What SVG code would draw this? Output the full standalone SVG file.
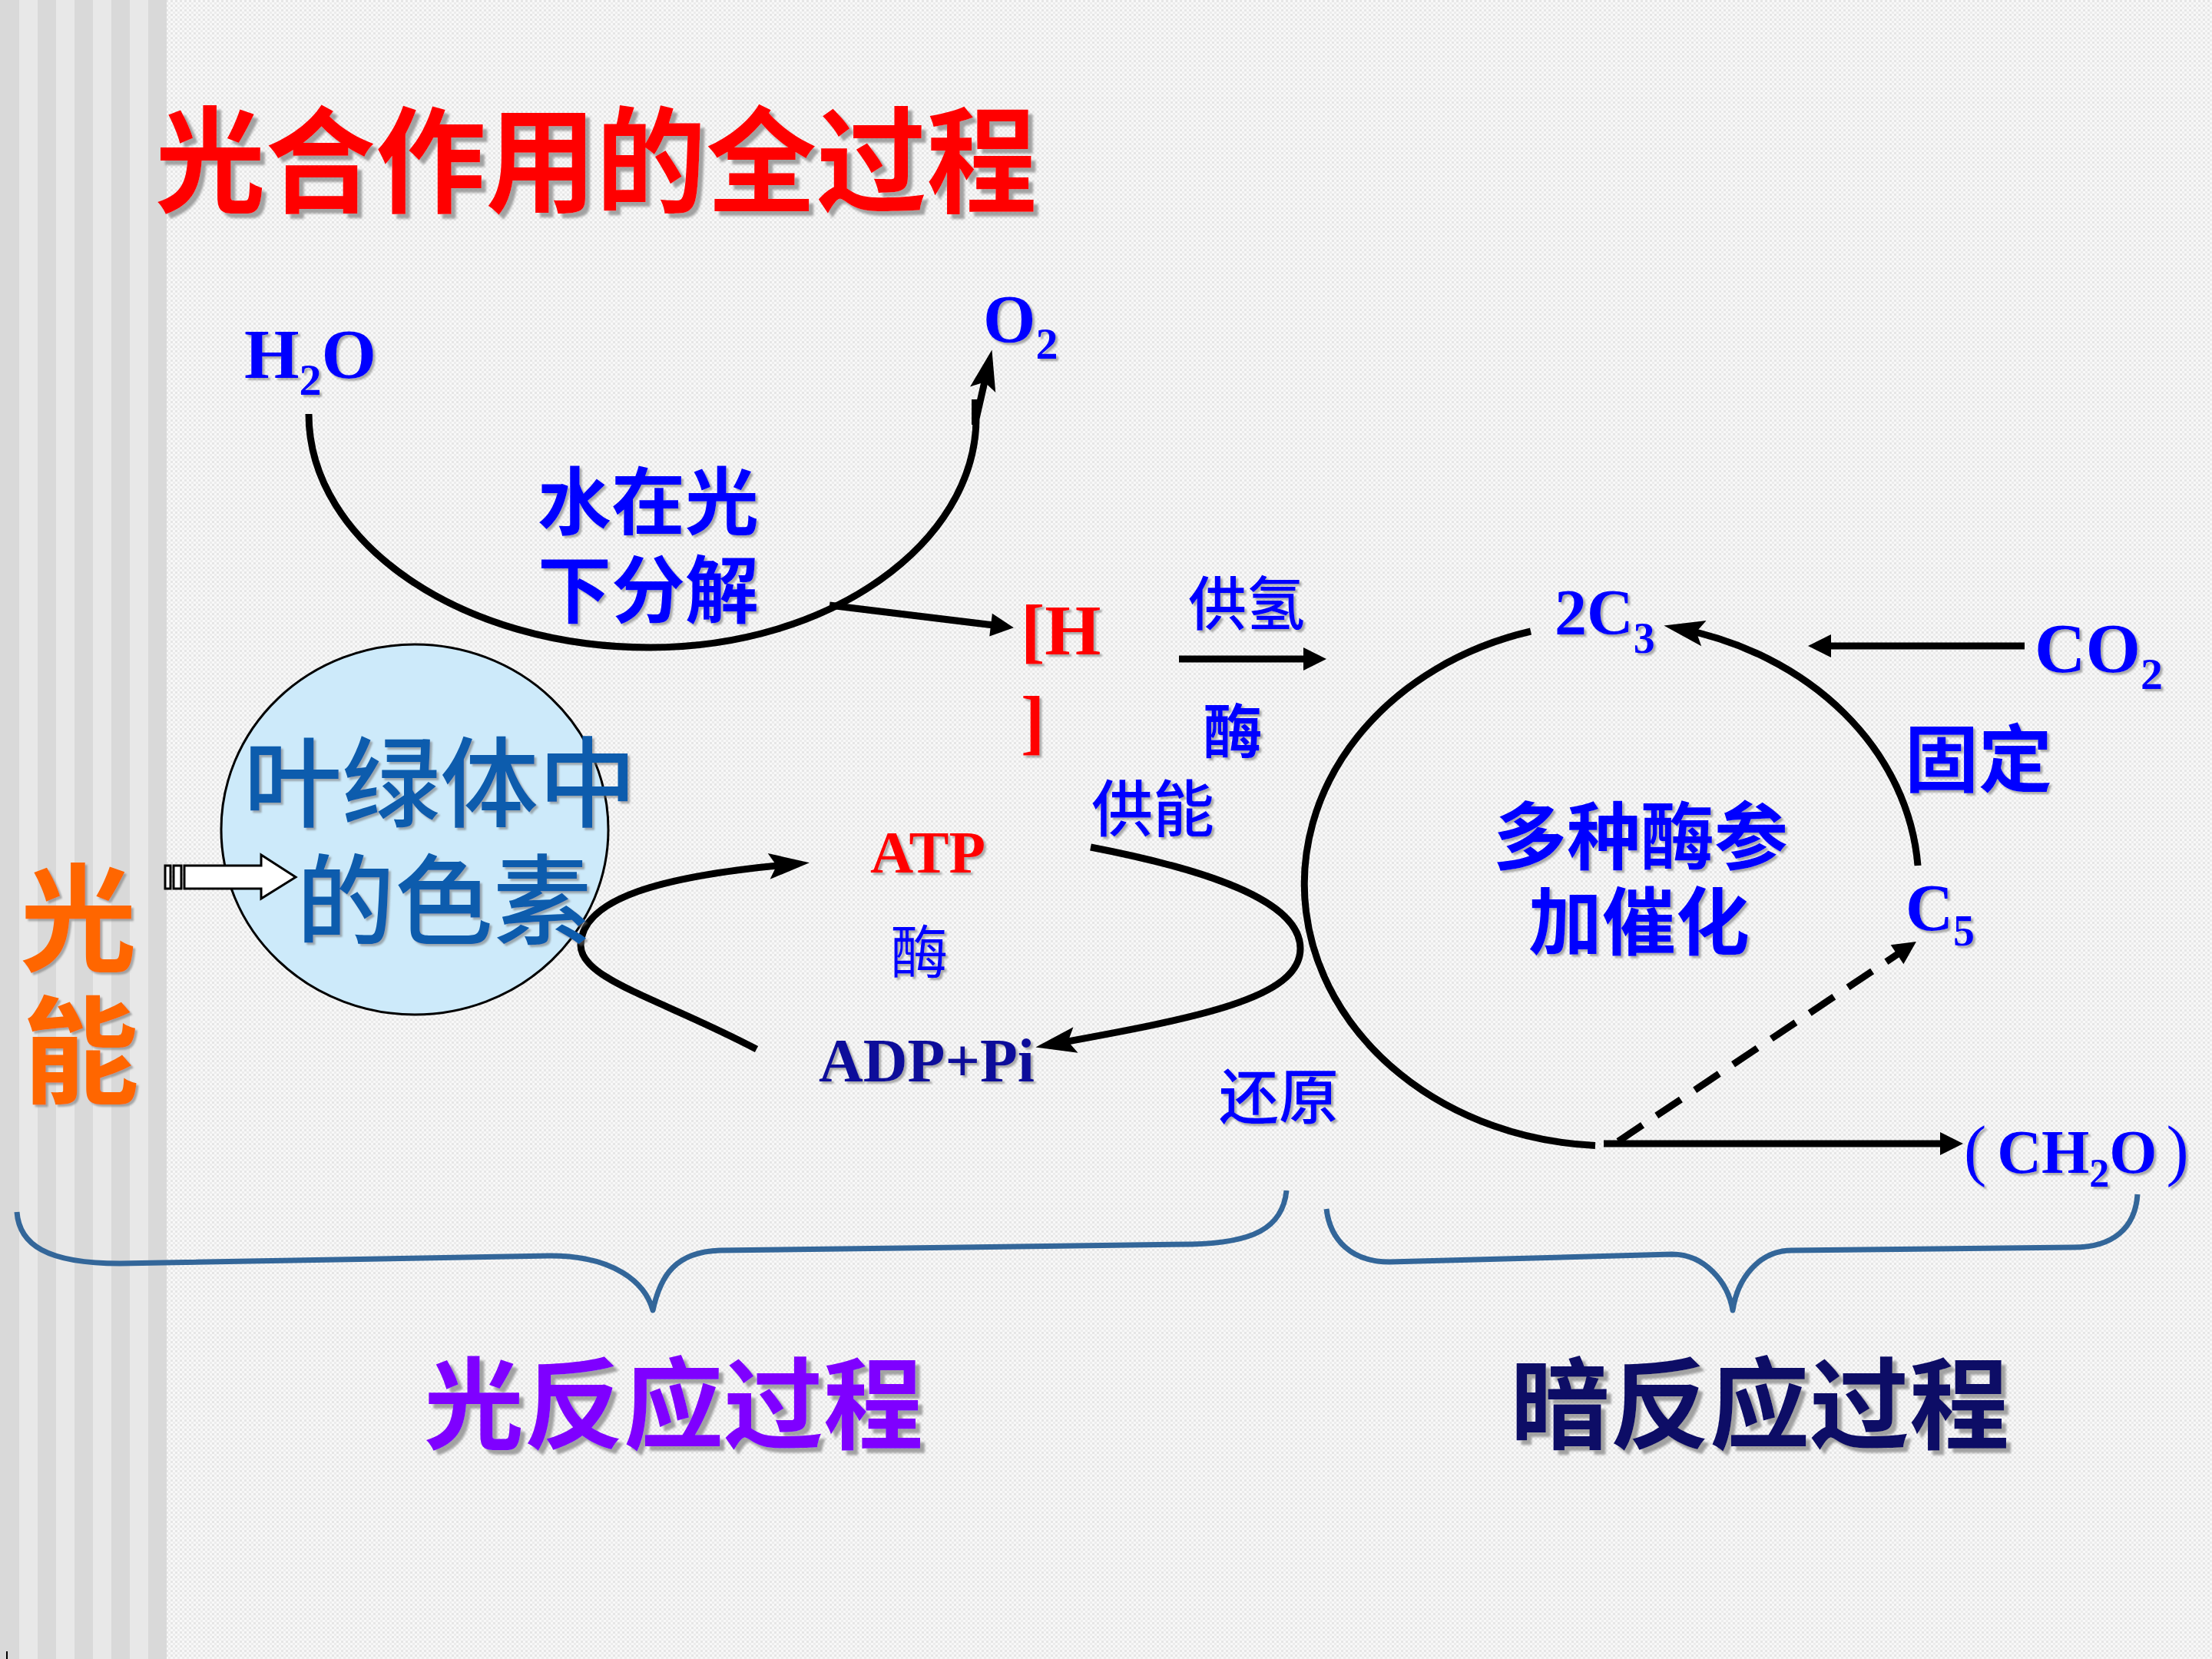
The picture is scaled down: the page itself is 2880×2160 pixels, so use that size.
<svg xmlns="http://www.w3.org/2000/svg" width="2880" height="2160" viewBox="0 0 2880 2160">
<defs>
  <pattern id="bgp" x="0" y="0" width="6" height="6" patternUnits="userSpaceOnUse">
    <rect width="6" height="6" fill="#f8f8f8"/>
    <rect width="3" height="3" fill="#e6e6e6"/>
    <rect x="3" y="3" width="3" height="3" fill="#ececec"/>
  </pattern>
  <filter id="sh" x="-10%" y="-10%" width="130%" height="140%">
    <feDropShadow dx="3" dy="3" stdDeviation="1" flood-color="#707070" flood-opacity="0.55"/>
  </filter>
  <filter id="shT" x="-10%" y="-10%" width="130%" height="140%">
    <feDropShadow dx="6" dy="6" stdDeviation="1.5" flood-color="#808080" flood-opacity="0.7"/>
  </filter>
  <marker id="stealth" markerUnits="userSpaceOnUse" orient="auto" overflow="visible" markerWidth="10" markerHeight="10" refX="0" refY="0">
    <path d="M20,0 L-33,-17 L-23,0 L-33,17 Z" fill="#000"/>
  </marker>
  <marker id="tri" markerUnits="userSpaceOnUse" orient="auto" overflow="visible" markerWidth="10" markerHeight="10" refX="0" refY="0">
    <path d="M18,0 L-12,-15 L-12,15 Z" fill="#000"/>
  </marker>
  <style>
    .cjkb { font-family: "Noto Sans CJK SC", sans-serif; font-weight: 700; }
    .cjkn { font-family: "Noto Sans CJK SC", sans-serif; font-weight: 500; }
    .cjkr { font-family: "Noto Sans CJK SC", sans-serif; font-weight: 400; }
    .ser { font-family: "Liberation Serif", "Noto Sans CJK SC", serif; font-weight: bold; }
    .blue { fill: #0000ff; }
    .conn { fill: none; stroke: #000; stroke-width: 9; stroke-linecap: butt; }
    .brace { fill: none; stroke: #336699; stroke-width: 7; stroke-linejoin: round; }
  </style>
</defs>

<!-- background -->
<rect x="0" y="0" width="2880" height="2160" fill="url(#bgp)"/>
<g id="stripes">
  <rect x="0" y="0" width="217" height="2160" fill="#e8e8e8"/>
  <rect x="0" y="0" width="25" height="2160" fill="#d9d9d9"/>
  <rect x="49" y="0" width="24" height="2160" fill="#d9d9d9"/>
  <rect x="97" y="0" width="24" height="2160" fill="#d9d9d9"/>
  <rect x="145" y="0" width="24" height="2160" fill="#d9d9d9"/>
  <rect x="193" y="0" width="24" height="2160" fill="#d9d9d9"/>
</g>
<line x1="9" y1="2150" x2="9" y2="2160" stroke="#000" stroke-width="2"/>

<!-- title -->
<text id="title" class="cjkb" x="202" y="265" font-size="150" font-weight="900" fill="#ff0000" textLength="1148" lengthAdjust="spacingAndGlyphs" filter="url(#shT)">光合作用的全过程</text>

<!-- connectors -->
<g id="connectors">
  <path class="conn" d="M402 539 C402 707 601 843 846 843 C1081 843 1270 707 1271 545 L1287 475" marker-end="url(#stealth)"/>
  <rect x="1265" y="520" width="10" height="33" fill="#000"/>
  <path class="conn" d="M1080 788 L1302 815" marker-end="url(#tri)"/>
  <path class="conn" d="M1535 858 L1709 858" marker-end="url(#tri)"/>
  <path class="conn" stroke-width="11" d="M985 1366 C860 1300 755 1275 756 1230 C758 1170 860 1140 1034 1125" marker-end="url(#stealth)"/>
  <path class="conn" stroke-width="11" d="M1420 1103 C1560 1130 1693 1170 1693 1235 C1693 1300 1560 1325 1368 1360" marker-end="url(#stealth)"/>
  <path class="conn" stroke-width="8" d="M1993 822 A400 341 0 0 0 2077 1491.5"/>
  <path class="conn" stroke-width="8" d="M2497 1127 A400 341 0 0 0 2186 818.4" marker-end="url(#stealth)"/>
  <path class="conn" stroke-width="8" d="M2636 841 L2372 841" marker-end="url(#tri)"/>
  <path class="conn" stroke-width="8" d="M2088 1489 L2538 1489" marker-end="url(#tri)"/>
  <path class="conn" stroke-width="8" stroke-dasharray="38 22" d="M2107 1486 L2480 1236" marker-end="url(#tri)"/>
</g>

<!-- braces -->
<g id="brace-light">
  <path class="brace" d="M22 1578 C25 1620 60 1645 156 1645 L716 1635 C800 1635 840 1670 850 1706 C860 1660 880 1630 937 1628 L1552 1620 C1630 1618 1670 1600 1675 1550"/>
</g>
<g id="brace-dark">
  <path class="brace" d="M1727 1574 C1732 1615 1760 1643 1809 1643 L2177 1633 C2220 1633 2250 1670 2256 1706 C2262 1665 2290 1628 2333 1628 L2700 1624 C2750 1624 2780 1600 2783 1555"/>
</g>

<!-- light energy -->
<g id="light-energy">
  <text class="cjkb" font-size="152" fill="#ff6600" text-anchor="middle" filter="url(#sh)"><tspan x="102" y="1253">光</tspan><tspan x="105" y="1425">能</tspan></text>
</g>

<!-- pigment node -->
<g id="pigment">
  <ellipse cx="540" cy="1080" rx="252" ry="241" fill="#cdeafa" stroke="#000" stroke-width="3"/>
  <g id="light-arrow" fill="#fff" stroke="#000" stroke-width="3">
    <rect x="215" y="1127" width="7" height="30"/>
    <rect x="226" y="1127" width="10" height="30"/>
    <polygon points="240,1127 340,1127 340,1113 385,1142 340,1170 340,1157 240,1157"/>
  </g>
  <text class="cjkn" font-size="128" fill="#0b5cad" text-anchor="middle" filter="url(#sh)"><tspan x="573" y="1067">叶绿体中</tspan><tspan x="578" y="1220">的色素</tspan></text>
</g>

<!-- H2O -->
<g id="h2o" filter="url(#sh)">
  <text class="ser blue" x="318" y="492" font-size="92">H<tspan font-size="58" dy="22">2</tspan><tspan dy="-22">O</tspan></text>
</g>
<!-- O2 -->
<g id="o2" filter="url(#sh)">
  <text class="ser blue" x="1280" y="445" font-size="88">O<tspan font-size="58" dy="22">2</tspan></text>
</g>
<!-- water splitting label -->
<g id="photolysis" filter="url(#sh)">
  <text class="cjkb blue" font-size="96" text-anchor="middle"><tspan x="844" y="688">水在光</tspan><tspan x="844" y="803">下分解</tspan></text>
</g>
<!-- [H] -->
<g id="h" filter="url(#sh)">
  <text class="ser" fill="#ff0000" font-size="94"><tspan x="1329" y="852">[H</tspan><tspan x="1329" y="971">]</tspan></text>
</g>
<!-- H supply labels -->
<g id="supply-h" filter="url(#sh)">
  <text class="cjkn blue" x="1623" y="814" font-size="76" text-anchor="middle">供氢</text>
  <text class="cjkb blue" x="1605" y="981" font-size="77" text-anchor="middle">酶</text>
</g>
<!-- ATP -->
<g id="atp" filter="url(#sh)">
  <text class="ser" x="1133" y="1136" font-size="78" fill="#ff0000">ATP</text>
</g>
<g id="enzyme-atp" filter="url(#sh)">
  <text class="cjkr blue" x="1197" y="1267" font-size="75" text-anchor="middle">酶</text>
</g>
<!-- ADP+Pi -->
<g id="adp" filter="url(#sh)">
  <text class="ser" x="1066" y="1408" font-size="80" fill="#10109a">ADP+Pi</text>
</g>
<g id="supply-energy" filter="url(#sh)">
  <text class="cjkn blue" x="1501" y="1082" font-size="80" text-anchor="middle">供能</text>
</g>
<g id="reduce" filter="url(#sh)">
  <text class="cjkn blue" x="1665" y="1457" font-size="78" text-anchor="middle">还原</text>
</g>
<!-- 2C3 -->
<g id="c3" filter="url(#sh)">
  <text class="ser blue" x="2024" y="826" font-size="84">2C<tspan font-size="56" dy="24">3</tspan></text>
</g>
<!-- CO2 -->
<g id="co2" filter="url(#sh)">
  <text class="ser blue" x="2649" y="875" font-size="92">CO<tspan font-size="58" dy="22">2</tspan></text>
</g>
<g id="fixation" filter="url(#sh)">
  <text class="cjkb blue" x="2576" y="1023" font-size="96" text-anchor="middle">固定</text>
</g>
<g id="enzymes" filter="url(#sh)">
  <text class="cjkb blue" font-size="96" text-anchor="middle"><tspan x="2136" y="1124">多种酶参</tspan><tspan x="2134" y="1235">加催化</tspan></text>
</g>
<!-- C5 -->
<g id="c5" filter="url(#sh)">
  <text class="ser blue" x="2481" y="1211" font-size="86">C<tspan font-size="56" dy="20">5</tspan></text>
</g>
<!-- (CH2O) -->
<g id="ch2o" filter="url(#sh)">
  <text class="ser blue" x="2557" y="1527" font-size="80"><tspan font-weight="normal" font-size="88">(</tspan><tspan dx="14">CH</tspan><tspan font-size="52" dy="18">2</tspan><tspan dy="-18">O</tspan><tspan font-weight="normal" font-size="88" dx="12">)</tspan></text>
</g>

<!-- stage labels -->
<g id="light-reaction" filter="url(#shT)">
  <text class="cjkb" x="877" y="1876" font-size="130" font-weight="900" fill="#7f00ff" text-anchor="middle">光反应过程</text>
</g>
<g id="dark-reaction" filter="url(#shT)">
  <text class="cjkb" x="2291" y="1876" font-size="130" font-weight="900" fill="#0d0d66" text-anchor="middle">暗反应过程</text>
</g>
</svg>
